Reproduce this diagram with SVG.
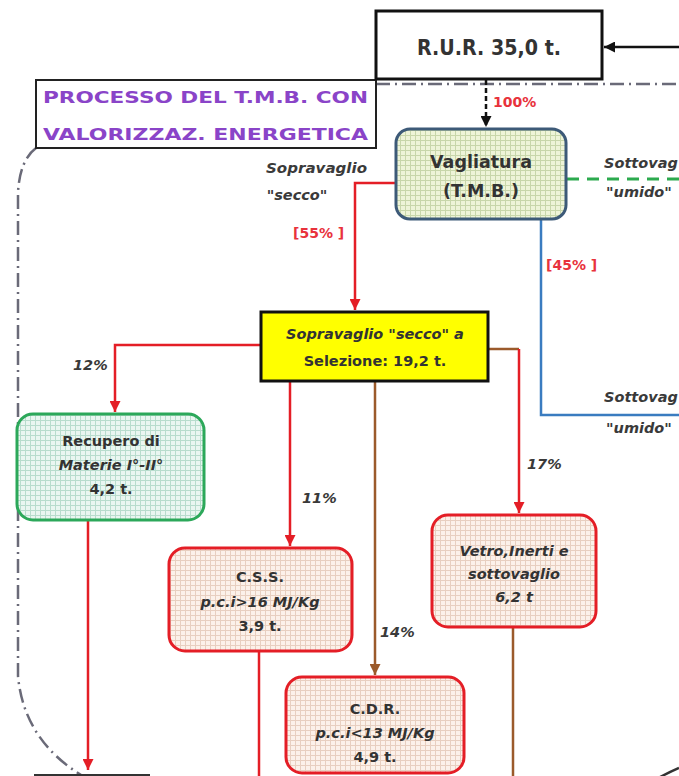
<svg xmlns="http://www.w3.org/2000/svg" width="679" height="776" viewBox="0 0 679 776">
<style>
.t{font-family:"DejaVu Sans","Liberation Sans",sans-serif;font-weight:bold;fill:#333;text-anchor:middle}
.i{font-style:italic}
.pct{font-family:"DejaVu Sans","Liberation Sans",sans-serif;font-weight:bold;font-style:italic;fill:#3a3a3a;font-size:14.5px}
.redt{font-family:"DejaVu Sans","Liberation Sans",sans-serif;font-weight:bold;fill:#e8323c;font-size:14px}
.purple{font-family:"DejaVu Sans","Liberation Sans",sans-serif;font-weight:bold;fill:#8a44c8;font-size:16px}
.ln{fill:none;stroke-width:2.5}
.red{stroke:#e41e26}
.brown{stroke:#9b5a2b}
.blk{stroke:#111}
.dashdot{fill:none;stroke:#6a6a78;stroke-width:2.5;stroke-dasharray:14 5 2 5}
</style>
<defs>
<pattern id="gY" width="5" height="5" patternUnits="userSpaceOnUse"><rect width="5" height="5" fill="#eef4d8"/><path d="M0 0.5H5M0.5 0V5" stroke="#c8d6aa" stroke-width="1"/></pattern>
<pattern id="gG" width="5" height="5" patternUnits="userSpaceOnUse"><rect width="5" height="5" fill="#eaf6f1"/><path d="M0 0.5H5M0.5 0V5" stroke="#b8dccd" stroke-width="1"/></pattern>
<pattern id="gP" width="5" height="5" patternUnits="userSpaceOnUse"><rect width="5" height="5" fill="#fcf1ea"/><path d="M0 0.5H5M0.5 0V5" stroke="#e8cfc0" stroke-width="1"/></pattern>
<marker id="aR" viewBox="0 0 10 10" refX="10" refY="5" markerWidth="11" markerHeight="11" markerUnits="userSpaceOnUse" orient="auto"><path d="M0 0L10 5L0 10z" fill="#e41e26"/></marker>
<marker id="aB" viewBox="0 0 10 10" refX="10" refY="5" markerWidth="11" markerHeight="11" markerUnits="userSpaceOnUse" orient="auto"><path d="M0 0L10 5L0 10z" fill="#9b5a2b"/></marker>
<marker id="aK" viewBox="0 0 10 10" refX="10" refY="5" markerWidth="11" markerHeight="11" markerUnits="userSpaceOnUse" orient="auto"><path d="M0 0L10 5L0 10z" fill="#111"/></marker>
</defs>
<rect width="679" height="776" fill="#fff"/>

<g id="connectors">
<path class="dashdot" d="M376 84H679"/>
<path class="dashdot" d="M36 148Q20 160 18 192V676Q24 742 86 778"/>
<path class="ln blk" stroke-width="2" d="M679 47H604" marker-end="url(#aK)"/>
<path class="ln blk" d="M486 80V127" stroke-dasharray="5 3" marker-end="url(#aK)"/>
<path class="ln red" d="M395 183H355V310" marker-end="url(#aR)"/>
<path fill="none" stroke="#2caa4e" stroke-width="3" stroke-dasharray="12 8" d="M567 179H679"/>
<path fill="none" stroke="#3a7cc0" stroke-width="2.5" d="M541 220V415H679"/>
<path class="ln red" d="M260 345H115V412" marker-end="url(#aR)"/>
<path class="ln red" d="M290 381V546" marker-end="url(#aR)"/>
<path class="ln brown" d="M375 381V675" marker-end="url(#aB)"/>
<path class="ln brown" d="M488 349H519"/>
<path class="ln red" d="M519 349V513" marker-end="url(#aR)"/>
<path class="ln red" d="M88 520V770" marker-end="url(#aR)"/>
<path class="ln red" d="M259 651V776"/>
<path class="ln brown" d="M513 627V776"/>
<path fill="none" stroke="#333" stroke-width="2" d="M34 775H150"/>
<path fill="none" stroke="#333" stroke-width="2.5" d="M660 777Q670 772 679 768"/>
</g>

<g id="label-processo">
<rect x="36" y="80" width="340" height="68" fill="#fff" stroke="#222" stroke-width="2"/>
<text class="purple" x="43" y="103" textLength="325" lengthAdjust="spacingAndGlyphs">PROCESSO DEL T.M.B. CON</text>
<text class="purple" x="43" y="140" textLength="325" lengthAdjust="spacingAndGlyphs">VALORIZZAZ. ENERGETICA</text>
</g>

<g id="rur">
<rect x="376" y="11" width="226" height="68" fill="#fff" stroke="#111" stroke-width="3"/>
<text class="t" x="489" y="55" font-size="21" fill="#222" textLength="144" lengthAdjust="spacingAndGlyphs">R.U.R. 35,0 t.</text>
</g>

<g id="vagliatura">
<rect x="396" y="129" width="170" height="90" rx="14" fill="url(#gY)" stroke="#3d5a78" stroke-width="3"/>
<text class="t" x="481" y="168" font-size="17.5">Vagliatura</text>
<text class="t" x="481" y="197" font-size="17.5">(T.M.B.)</text>
</g>

<g id="labels">
<text class="pct" x="266" y="173" font-size="15.5" textLength="101" lengthAdjust="spacingAndGlyphs">Sopravaglio</text>
<text class="pct" x="297" y="200" text-anchor="middle" font-size="15.5">"secco"</text>
<text class="redt" x="293" y="238">[55% ]</text>
<text class="redt" x="493" y="107" font-size="13.5">100%</text>
<text class="redt" x="546" y="270">[45% ]</text>
<text class="pct" x="604" y="168" font-size="13.5">Sottovag</text>
<text class="pct" x="606" y="197" font-size="12.5">"umido"</text>
<text class="pct" x="604" y="402" font-size="13.5">Sottovag</text>
<text class="pct" x="606" y="433" font-size="12.5">"umido"</text>
<text class="pct" x="73" y="370" font-size="15.5">12%</text>
<text class="pct" x="302" y="503">11%</text>
<text class="pct" x="527" y="469">17%</text>
<text class="pct" x="380" y="637">14%</text>
</g>

<g id="selezione">
<rect x="261" y="312" width="227" height="69" fill="#ffff00" stroke="#111" stroke-width="3"/>
<text class="t i" x="375" y="339" font-size="14.5">Sopravaglio "secco" a</text>
<text class="t" x="375" y="366" font-size="14.5">Selezione: 19,2 t.</text>
</g>

<g id="recupero">
<rect x="17" y="414" width="187" height="106" rx="16" fill="url(#gG)" stroke="#2ca85a" stroke-width="3"/>
<text class="t" x="111" y="446" font-size="14.5">Recupero di</text>
<text class="t i" x="111" y="470" font-size="14.5">Materie  I°-II°</text>
<text class="t" x="111" y="494" font-size="14.5">4,2 t.</text>
</g>

<g id="css">
<rect x="169" y="548" width="183" height="103" rx="16" fill="url(#gP)" stroke="#e41e26" stroke-width="3"/>
<text class="t" x="260" y="582" font-size="14.5">C.S.S.</text>
<text class="t i" x="260" y="607" font-size="14.5">p.c.i&gt;16 MJ/Kg</text>
<text class="t" x="260" y="631" font-size="14.5">3,9 t.</text>
</g>

<g id="vetro">
<rect x="432" y="515" width="164" height="112" rx="16" fill="url(#gP)" stroke="#e41e26" stroke-width="3"/>
<text class="t i" x="514" y="556" font-size="14.5">Vetro,Inerti e</text>
<text class="t i" x="514" y="579" font-size="14.5">sottovaglio</text>
<text class="t i" x="514" y="602" font-size="14.5">6,2 t</text>
</g>

<g id="cdr">
<rect x="286" y="677" width="178" height="96" rx="16" fill="url(#gP)" stroke="#e41e26" stroke-width="3"/>
<text class="t" x="375" y="714" font-size="14.5">C.D.R.</text>
<text class="t i" x="375" y="738" font-size="14.5">p.c.i&lt;13 MJ/Kg</text>
<text class="t" x="375" y="762" font-size="14.5">4,9 t.</text>
</g>
</svg>
